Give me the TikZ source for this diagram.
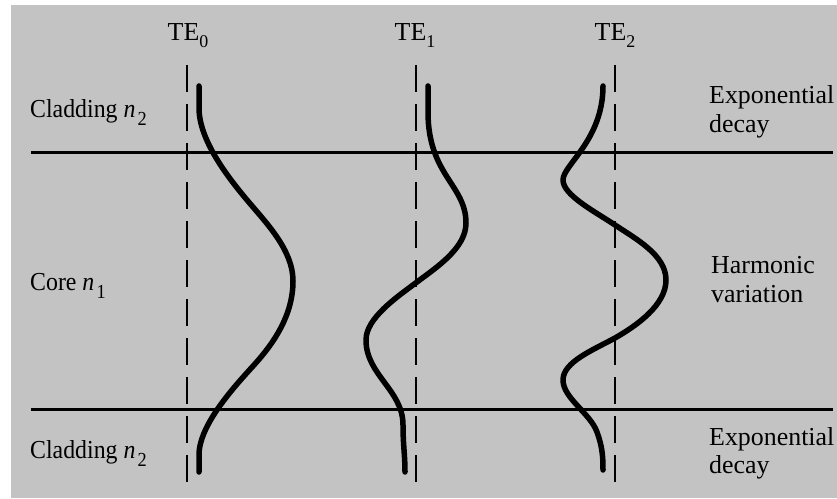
\documentclass[tikz,border=0pt]{standalone}
\usepackage{fontspec}
\usepackage{graphicx}
\setmainfont{Liberation Serif}
\definecolor{bggray}{RGB}{195,195,195}
\newcommand{\nsub}[1]{\kern2.5bp\raisebox{-8bp}{\fontsize{20}{20}\selectfont #1}}
\newcommand{\tesub}[1]{\raisebox{-6.5bp}{\fontsize{18}{18}\selectfont #1}}
\newcommand{\narrow}[1]{\scalebox{0.92}[1]{#1}}
\tikzset{
  wave/.style={line width=5.5bp, line cap=round, line join=round},
  interface/.style={line width=3bp},
  axisdash/.style={line width=2.4bp, dash pattern=on 27bp off 12bp},
  lbl/.style={anchor=base west, inner sep=0pt, font=\fontsize{26}{30}\selectfont},
  telbl/.style={anchor=base, inner sep=0pt, font=\fontsize{26}{30}\selectfont},
}
\begin{document}
\begin{tikzpicture}[x=1bp, y=-1bp]
\useasboundingbox (0,0) rectangle (837,499);
\fill[bggray] (11,5) rectangle (837,498);

% interfaces
\coordinate (itl) at (31,153); \coordinate (itr) at (833,153);
\coordinate (ibl) at (31,409); \coordinate (ibr) at (833,409);
\draw[interface] (itl) -- (itr);
\draw[interface] (ibl) -- (ibr);

% mode axes
\coordinate (a0t) at (187,65); \coordinate (a0b) at (187,483);
\coordinate (a1t) at (416,65); \coordinate (a1b) at (416,483);
\coordinate (a2t) at (615,65); \coordinate (a2b) at (615,483);
\draw[axisdash] (a0t) -- (a0b);
\draw[axisdash] (a1t) -- (a1b);
\draw[axisdash] (a2t) -- (a2b);

% TE0
\draw[wave] (199,86) -- (199,108)
  .. controls (199,140) and (227.7,177) .. (247,200)
  .. controls (266.3,223) and (293,250) .. (293,281)
  .. controls (293,315) and (274,343) .. (254,365)
  .. controls (234,387) and (199,425) .. (199,455)
  -- (199,472);
% TE1
\draw[wave] (428,86) -- (428,112)
  .. controls (428,175) and (466,185) .. (466,223)
  .. controls (466,248) and (437,267) .. (417,282)
  .. controls (397,297) and (366,318) .. (366,340)
  .. controls (366,375) and (403,390) .. (403,425)
  .. controls (403,445) and (405,455) .. (405,472);
% TE2
\draw[wave] (603,86)
  .. controls (603,140) and (563,165) .. (563,180)
  .. controls (563,195) and (594,211) .. (615,225)
  .. controls (636,239) and (666,255) .. (666,280)
  .. controls (666,305) and (636.7,325.6) .. (615,338)
  .. controls (593,350) and (563,362) .. (563,380)
  .. controls (563,398) and (590,413) .. (597,432)
  .. controls (602,446) and (603,455) .. (603,470);

% labels
\node[telbl] (te0) at (188,41) {TE\tesub{0}};
\node[telbl] (te1) at (415,41) {TE\tesub{1}};
\node[telbl] (te2) at (615,41) {TE\tesub{2}};

\node[lbl] (cladtop) at (30,118) {\narrow{Cladding \textit{n}\nsub{2}}};
\node[lbl] (core) at (30,291) {\narrow{Core \textit{n}\nsub{1}}};
\node[lbl] (cladbot) at (30,458) {\narrow{Cladding \textit{n}\nsub{2}}};

\node[lbl] (exptop1) at (709,104) {Exponential};
\node[lbl] (exptop2) at (709,133) {decay};
\node[lbl] (harm1) at (711,274) {Harmonic};
\node[lbl] (harm2) at (711,303) {variation};
\node[lbl] (expbot1) at (709,445) {Exponential};
\node[lbl] (expbot2) at (709,473) {decay};
\end{tikzpicture}
\end{document}
